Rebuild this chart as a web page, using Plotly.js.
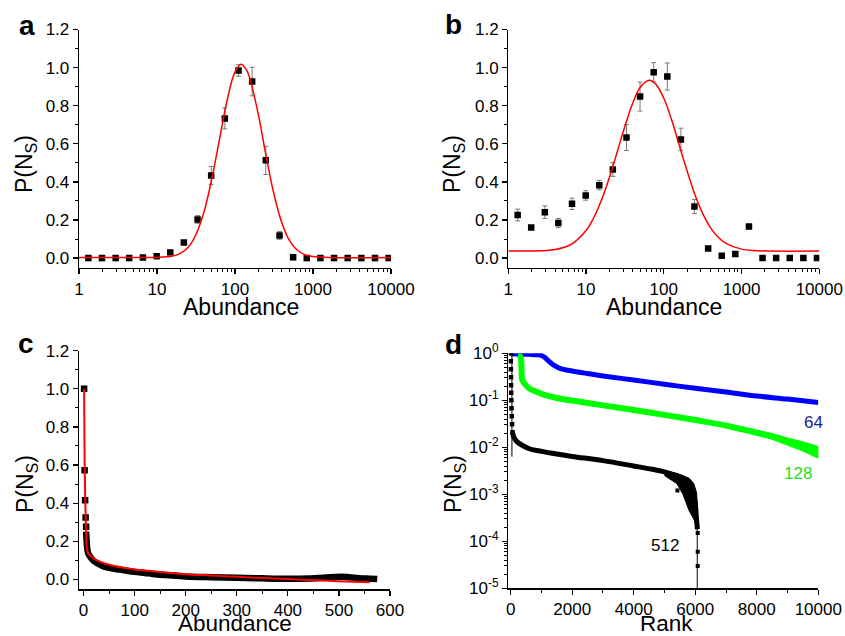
<!DOCTYPE html>
<html>
<head>
<meta charset="utf-8">
<script src="https://cdn.plot.ly/plotly-3.0.1.min.js"></script>
<style>html,body{margin:0;padding:0;background:#fff;}#chart{width:845px;height:636px;}</style>
</head>
<body>
<div id="chart"></div>
<script>
// ---------- Panel a / b : binned abundance ----------
const binsAbund = [1.32,1.97,2.95,4.4,6.6,9.9,14.8,22.1,33.1,49.5,74.1,111,166,248,372,556,832,1245,1862,2786,4169,6237,9333];
const probA = [0,0,0,0,0.003,0.01,0.03,0.082,0.203,0.434,0.733,0.985,0.927,0.513,0.119,0.004,0,0,0,0,0,0,0];
const errA  = [0,0,0,0,0,0.003,0.006,0.01,0.02,0.047,0.055,0.03,0.075,0.074,0.02,0.005,0,0,0,0,0,0,0];
const fitAx = [1,3.16,10,15.85,19.95,25.1,31.6,39.8,50.1,63.1,79.4,100,120,141,158,200,251,316,398,501,631,794,1000,1585,10000];
const fitAy = [0.003,0.003,0.0036,0.0105,0.0245,0.057,0.124,0.239,0.41,0.621,0.83,0.978,1.018,0.987,0.93,0.75,0.534,0.335,0.186,0.092,0.041,0.017,0.008,0.003,0.003];

const probB = [0.226,0.161,0.241,0.184,0.285,0.329,0.383,0.465,0.633,0.848,0.976,0.953,0.623,0.271,0.051,0.012,0.021,0.166,0,0,0,0,0];
const errB  = [0.031,0.01,0.033,0.024,0.03,0.025,0.025,0.036,0.068,0.076,0.05,0.071,0.059,0.037,0.006,0.006,0.006,0.012,0,0,0,0,0];
const fitBx = [1,2.51,3.98,6.31,10,12.6,15.85,19.95,25.1,31.6,39.8,50.1,65,79.4,100,126,158,200,251,316,398,501,631,1000,1585,10000];
const fitBy = [0.037,0.0385,0.045,0.070,0.145,0.213,0.306,0.423,0.556,0.692,0.813,0.898,0.934,0.912,0.839,0.726,0.592,0.456,0.334,0.235,0.160,0.109,0.077,0.047,0.039,0.037];
const abundTickVals = [1,10,100,1000,10000];
const abundTickText = ['1','10','100','1000','10000'];

// ---------- Panel c : linear abundance ----------
const cIsoX = [1,2,3,4,5];
const cIsoY = [1.0,0.572,0.415,0.325,0.276];
const cBandX = [5,6,7,9,12,15,19,25,30,38,50,60,71,85,100,120,136,160,200,250,300,350,400,440,470,490,505,520,540,560,575];
const cBandY = [0.25,0.2,0.165,0.136,0.122,0.11,0.098,0.087,0.08,0.068,0.06,0.055,0.051,0.045,0.039,0.033,0.028,0.022,0.015,0.011,0.008,0.005,0.003,0.004,0.008,0.012,0.014,0.011,0.006,0.003,0.001];
const cFitX = [1,2,3,4,5,6,8,10,15,20,30,40,60,80,100,136,170,200,250,300,350,400,450,500,560];
const cFitY = [1.0,0.62,0.45,0.33,0.24,0.17,0.145,0.132,0.118,0.108,0.095,0.084,0.07,0.06,0.052,0.042,0.033,0.027,0.02,0.013,0.007,0.001,-0.005,-0.01,-0.016];

// ---------- Panel d : rank plot ----------
const blueRank = [0,300,600,900,1000,1100,1200,1300,1400,1600,2000,2500,3000,4000,5000,6000,7000,8000,9000,10000];
const blueP    = [0.98,0.96,0.95,0.93,0.9,0.82,0.72,0.63,0.56,0.48,0.42,0.37,0.33,0.27,0.22,0.18,0.15,0.123,0.106,0.09];
const greenRank = [240,300,330,345,355,370,420,470,600,800,1100,1500,2250,3000,3900,5000,6000,7000,8000,8500,9000,9500,10000];
const greenP    = [0.9,0.87,0.8,0.6,0.4,0.28,0.24,0.22,0.18,0.155,0.13,0.112,0.093,0.078,0.064,0.049,0.038,0.029,0.0205,0.017,0.0135,0.0105,0.0078];
const greenTailRank = [7000,8000,8500,9000,9500,10000];
const greenTailHi   = [0.031,0.023,0.0195,0.0158,0.0131,0.0104];
const greenTailLo   = [0.026,0.018,0.0148,0.0113,0.0083,0.0058];
const blackEarlyRank = [2,4,6,9,12,16,20,26,34,45,60];
const blackEarlyP    = [1.0,0.68,0.46,0.31,0.21,0.145,0.1,0.068,0.046,0.031,0.021];
const blackRank = [60,100,200,400,630,1000,1500,2000,3000,4000,4600,5000,5400,5600,5800,5900,6000,6040,6070];
const blackP    = [0.021,0.0165,0.0132,0.0108,0.0092,0.0082,0.0072,0.0064,0.0052,0.004,0.0034,0.003,0.0024,0.0019,0.0013,0.001,0.0006,0.0003,0.00018];
const blackTailRank = [5000,5400,5600,5800,5950,6040,6070];
const blackTailHi   = [0.0032,0.0028,0.0025,0.0022,0.0017,0.0011,0.0006];
const blackTailLo   = [0.0025,0.0017,0.001,0.00045,0.0003,0.0002,0.0002];
const blackScatterRank = [5420,6080,6080,6080];
const blackScatterP    = [0.0012,0.00015,0.00006,0.00003];
const blackErrRank = [40,40];
const blackErrP    = [1.0,0.0063];
const blackErr2Rank = [6065,6065];
const blackErr2P    = [0.00001,0.0003];
const rankTickVals = [0,2000,4000,6000,8000,10000];
const rankTickText = ['0','2000','4000','6000','8000','10000'];
const logTickVals = [1e-5,1e-4,1e-3,1e-2,1e-1,1];
const logTickText = ['10<sup>-5</sup>','10<sup>-4</sup>','10<sup>-3</sup>','10<sup>-2</sup>','10<sup>-1</sup>','10<sup>0</sup>'];

const FONT = 'Arial, "Liberation Sans", sans-serif';
const W = 845, H = 636;
const px = x => x / W;
const py = y => 1 - y / H;

const ebar = arr => ({type:'data', array:arr, visible:true, color:'#7a7a7a', thickness:1, width:2.5});
const sq = {symbol:'square', size:6.5, color:'black'};

function band(xs, hi, lo) {
  return {x: xs.concat(xs.slice().reverse()), y: hi.concat(lo.slice().reverse())};
}
const gBand = band(greenTailRank, greenTailHi, greenTailLo);
const kBand = band(blackTailRank, blackTailHi, blackTailLo);

const traces = [
  // a
  {x: binsAbund, y: probA, xaxis:'x', yaxis:'y', mode:'markers', marker: sq, error_y: ebar(errA)},
  {x: fitAx, y: fitAy, xaxis:'x', yaxis:'y', mode:'lines', line:{color:'#ff0000', width:1.5, shape:'spline'}},
  // b
  {x: binsAbund, y: probB, xaxis:'x2', yaxis:'y2', mode:'markers', marker: sq, error_y: ebar(errB)},
  {x: fitBx, y: fitBy, xaxis:'x2', yaxis:'y2', mode:'lines', line:{color:'#ff0000', width:1.5, shape:'spline'}},
  // c
  {x: cBandX, y: cBandY, xaxis:'x3', yaxis:'y3', mode:'lines', line:{color:'black', width:6.5, shape:'spline'}},
  {x: cIsoX, y: cIsoY, xaxis:'x3', yaxis:'y3', mode:'markers', marker: sq},
  {x: cFitX, y: cFitY, xaxis:'x3', yaxis:'y3', mode:'lines', line:{color:'#ff0000', width:2, shape:'spline'}},
  // d
  {x: blueRank, y: blueP, xaxis:'x4', yaxis:'y4', mode:'lines', line:{color:'#0000ff', width:5, shape:'spline'}},
  {x: greenRank, y: greenP, xaxis:'x4', yaxis:'y4', mode:'lines', line:{color:'#00ff00', width:6, shape:'spline'}},
  {x: gBand.x, y: gBand.y, xaxis:'x4', yaxis:'y4', mode:'lines', fill:'toself', fillcolor:'#00ff00', line:{color:'#00ff00', width:1}},
  {x: blackErrRank, y: blackErrP, xaxis:'x4', yaxis:'y4', mode:'lines', line:{color:'black', width:1}},
  {x: blackErr2Rank, y: blackErr2P, xaxis:'x4', yaxis:'y4', mode:'lines', line:{color:'black', width:1}},
  {x: blackEarlyRank, y: blackEarlyP, xaxis:'x4', yaxis:'y4', mode:'markers', marker:{symbol:'square', size:4.5, color:'black'}},
  {x: blackRank, y: blackP, xaxis:'x4', yaxis:'y4', mode:'lines', line:{color:'black', width:5, shape:'spline'}},
  {x: kBand.x, y: kBand.y, xaxis:'x4', yaxis:'y4', mode:'lines', fill:'toself', fillcolor:'black', line:{color:'black', width:1}},
  {x: blackScatterRank, y: blackScatterP, xaxis:'x4', yaxis:'y4', mode:'markers', marker:{symbol:'square', size:4, color:'black'}}
];

const baseAxis = {
  showline:true, linecolor:'black', linewidth:1.3, mirror:false,
  ticks:'outside', ticklen:5, tickwidth:1.2, tickcolor:'black',
  showgrid:false, zeroline:false, fixedrange:true,
  tickfont:{family:FONT, size:17, color:'black'}
};
const minorAx = extra => Object.assign({ticks:'outside', ticklen:3, tickwidth:1, tickcolor:'black', showgrid:false}, extra);

const yLin = (dom, anchor, lo) => Object.assign({}, baseAxis, {
  domain: dom, anchor: anchor, range:[lo, 1.2], tick0:0, dtick:0.2, tickformat:'.1f',
  minor: minorAx({dtick:0.1, tick0:0})
});
const xLog = (dom, anchor) => Object.assign({}, baseAxis, {
  domain: dom, anchor: anchor, type:'log', range:[0,4],
  tickmode:'array', tickvals: abundTickVals, ticktext: abundTickText,
  minor: minorAx({dtick:'D1'})
});

const layout = {
  width: W, height: H,
  margin:{l:0, r:0, t:0, b:0},
  paper_bgcolor:'white', plot_bgcolor:'white',
  showlegend:false,
  font:{family:FONT, color:'black'},
  xaxis:  xLog([px(79), px(391)], 'y'),
  yaxis:  yLin([py(268), py(29.5)], 'x', -0.052),
  xaxis2: xLog([px(508.3), px(819.3)], 'y2'),
  yaxis2: yLin([py(268), py(29.5)], 'x2', -0.052),
  xaxis3: Object.assign({}, baseAxis, {domain:[px(79), px(390)], anchor:'y3', range:[-9,600], tick0:0, dtick:100,
           minor: minorAx({dtick:50, tick0:0})}),
  yaxis3: yLin([py(589.3), py(350.7)], 'x3', -0.0525),
  xaxis4: Object.assign({}, baseAxis, {domain:[px(508.3), px(818.3)], anchor:'y4', range:[-78,10000],
           tickmode:'array', tickvals: rankTickVals, ticktext: rankTickText,
           minor: minorAx({dtick:1000, tick0:0})}),
  yaxis4: Object.assign({}, baseAxis, {domain:[py(588.3), py(353.3)], anchor:'x4', type:'log', range:[-5,0],
           tickmode:'array', tickvals: logTickVals, ticktext: logTickText,
           minor: minorAx({dtick:'D1'})}),
  annotations: []
};

const ann = (text, x, y, opts) => Object.assign({
  text: text, xref:'paper', yref:'paper', x: px(x), y: py(y),
  xanchor:'center', yanchor:'middle', showarrow:false,
  font:{family:FONT, size:23, color:'black'}
}, opts || {});

const letterFont = {family:FONT, size:28, color:'black', weight:'bold'};
const botTitleFont = {family:FONT, size:22.5, color:'black'};
layout.annotations.push(
  ann('<b>a</b>', 26.7, 25.6, {font: letterFont}),
  ann('<b>b</b>', 453, 24.6, {font: letterFont}),
  ann('<b>c</b>', 26.3, 343.6, {font: letterFont}),
  ann('<b>d</b>', 453, 344.6, {font: letterFont}),
  ann('Abundance', 241, 306.5),
  ann('Abundance', 664, 306.5),
  ann('Abundance', 235, 623, {font: botTitleFont}),
  ann('Rank', 666, 623, {font: botTitleFont}),
  ann('P(N<sub>S</sub>)', 26, 164, {textangle:-90}),
  ann('P(N<sub>S</sub>)', 454, 164, {textangle:-90}),
  ann('P(N<sub>S</sub>)', 26, 484, {textangle:-90}),
  ann('P(N<sub>S</sub>)', 454, 484, {textangle:-90}),
  ann('64', 813.5, 422.7, {font:{family:FONT, size:17, color:'#1c1c96'}}),
  ann('128', 798, 473.7, {font:{family:FONT, size:17, color:'#22e022'}}),
  ann('512', 664.7, 545.5, {font:{family:FONT, size:17, color:'black'}})
);

Plotly.newPlot('chart', traces, layout, {staticPlot:true, displayModeBar:false});
</script>
</body>
</html>
